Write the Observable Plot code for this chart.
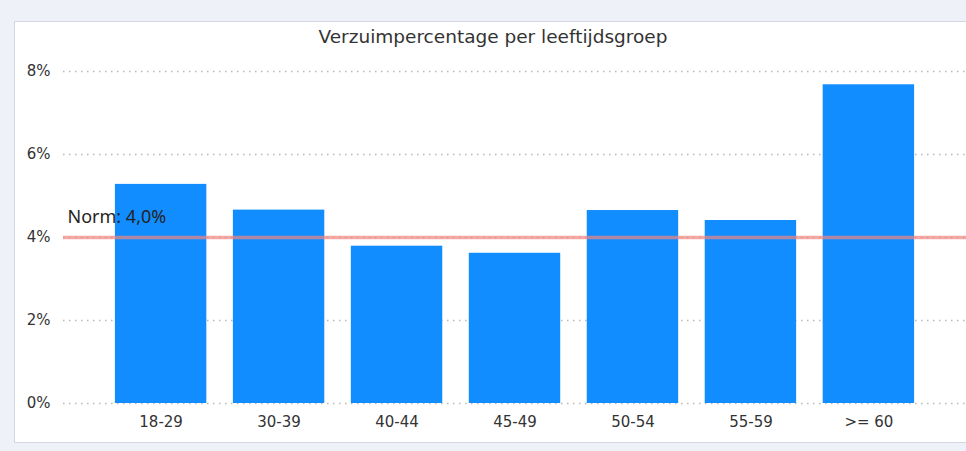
<!DOCTYPE html>
<html>
<head>
<meta charset="utf-8">
<script src="https://cdn.jsdelivr.net/npm/d3@7"></script>
<script src="https://cdn.jsdelivr.net/npm/@observablehq/plot@0.6"></script>
<style>
  html, body { margin: 0; padding: 0; background: #eef1f7; width: 966px; height: 451px; overflow: hidden; }
  #panel { position: absolute; left: 14px; top: 21px; width: 980px; height: 420px; background: #fff; border: 1px solid #d3d7df; }
  #title { position: absolute; left: 0; top: 26px; width: 986px; text-align: center; font-family: "DejaVu Sans", sans-serif; font-size: 18.5px; color: #333; }
  #chart { position: absolute; left: 0; top: 0; }
</style>
</head>
<body>
<div id="panel"></div>
<div id="title">Verzuimpercentage per leeftijdsgroep</div>
<div id="chart"></div>
<script>
const categories = ["18-29", "30-39", "40-44", "45-49", "50-54", "55-59", ">= 60"];
const values = [5.28, 4.66, 3.79, 3.62, 4.65, 4.41, 7.68];
const yTicks = [0, 2, 4, 6, 8];
const norm = 4.0;
const normLabel = "Norm: 4,0%";

const data = categories.map((c, i) => ({ cat: c, value: values[i] }));

const chart = Plot.plot({
  width: 966,
  height: 451,
  marginLeft: 63,
  marginRight: 0,
  marginTop: 71,
  marginBottom: 48,
  style: { background: "transparent", fontFamily: "DejaVu Sans, sans-serif", fontSize: "15px", color: "#333" },
  x: { domain: categories, paddingInner: 0.225, paddingOuter: 0.44, round: false, label: null },
  y: { domain: [0, 8], label: null },
  marks: [
    Plot.ruleY(yTicks, { stroke: "#b8b8b8", strokeDasharray: "1.5,4.5", strokeWidth: 1.3 }),
    Plot.barY(data, { x: "cat", y: "value", fill: "#118DFF" }),
    Plot.ruleY([norm], { stroke: "#f0857e", strokeWidth: 3.5, strokeOpacity: 0.7 }),
    Plot.text([norm], { y: d => d, text: () => normLabel, frameAnchor: "left", textAnchor: "start", dx: 4, dy: -20, fontSize: 18, fontFamily: "Noto Sans, sans-serif", fill: "#252423" }),
    Plot.axisY({ ticks: yTicks, tickSize: 0, tickPadding: 13, tickFormat: d => d + "%", fontSize: 15 }),
    Plot.axisX({ tickSize: 0, tickPadding: 13, fontSize: 15 })
  ]
});
document.getElementById("chart").appendChild(chart);
</script>
</body>
</html>
